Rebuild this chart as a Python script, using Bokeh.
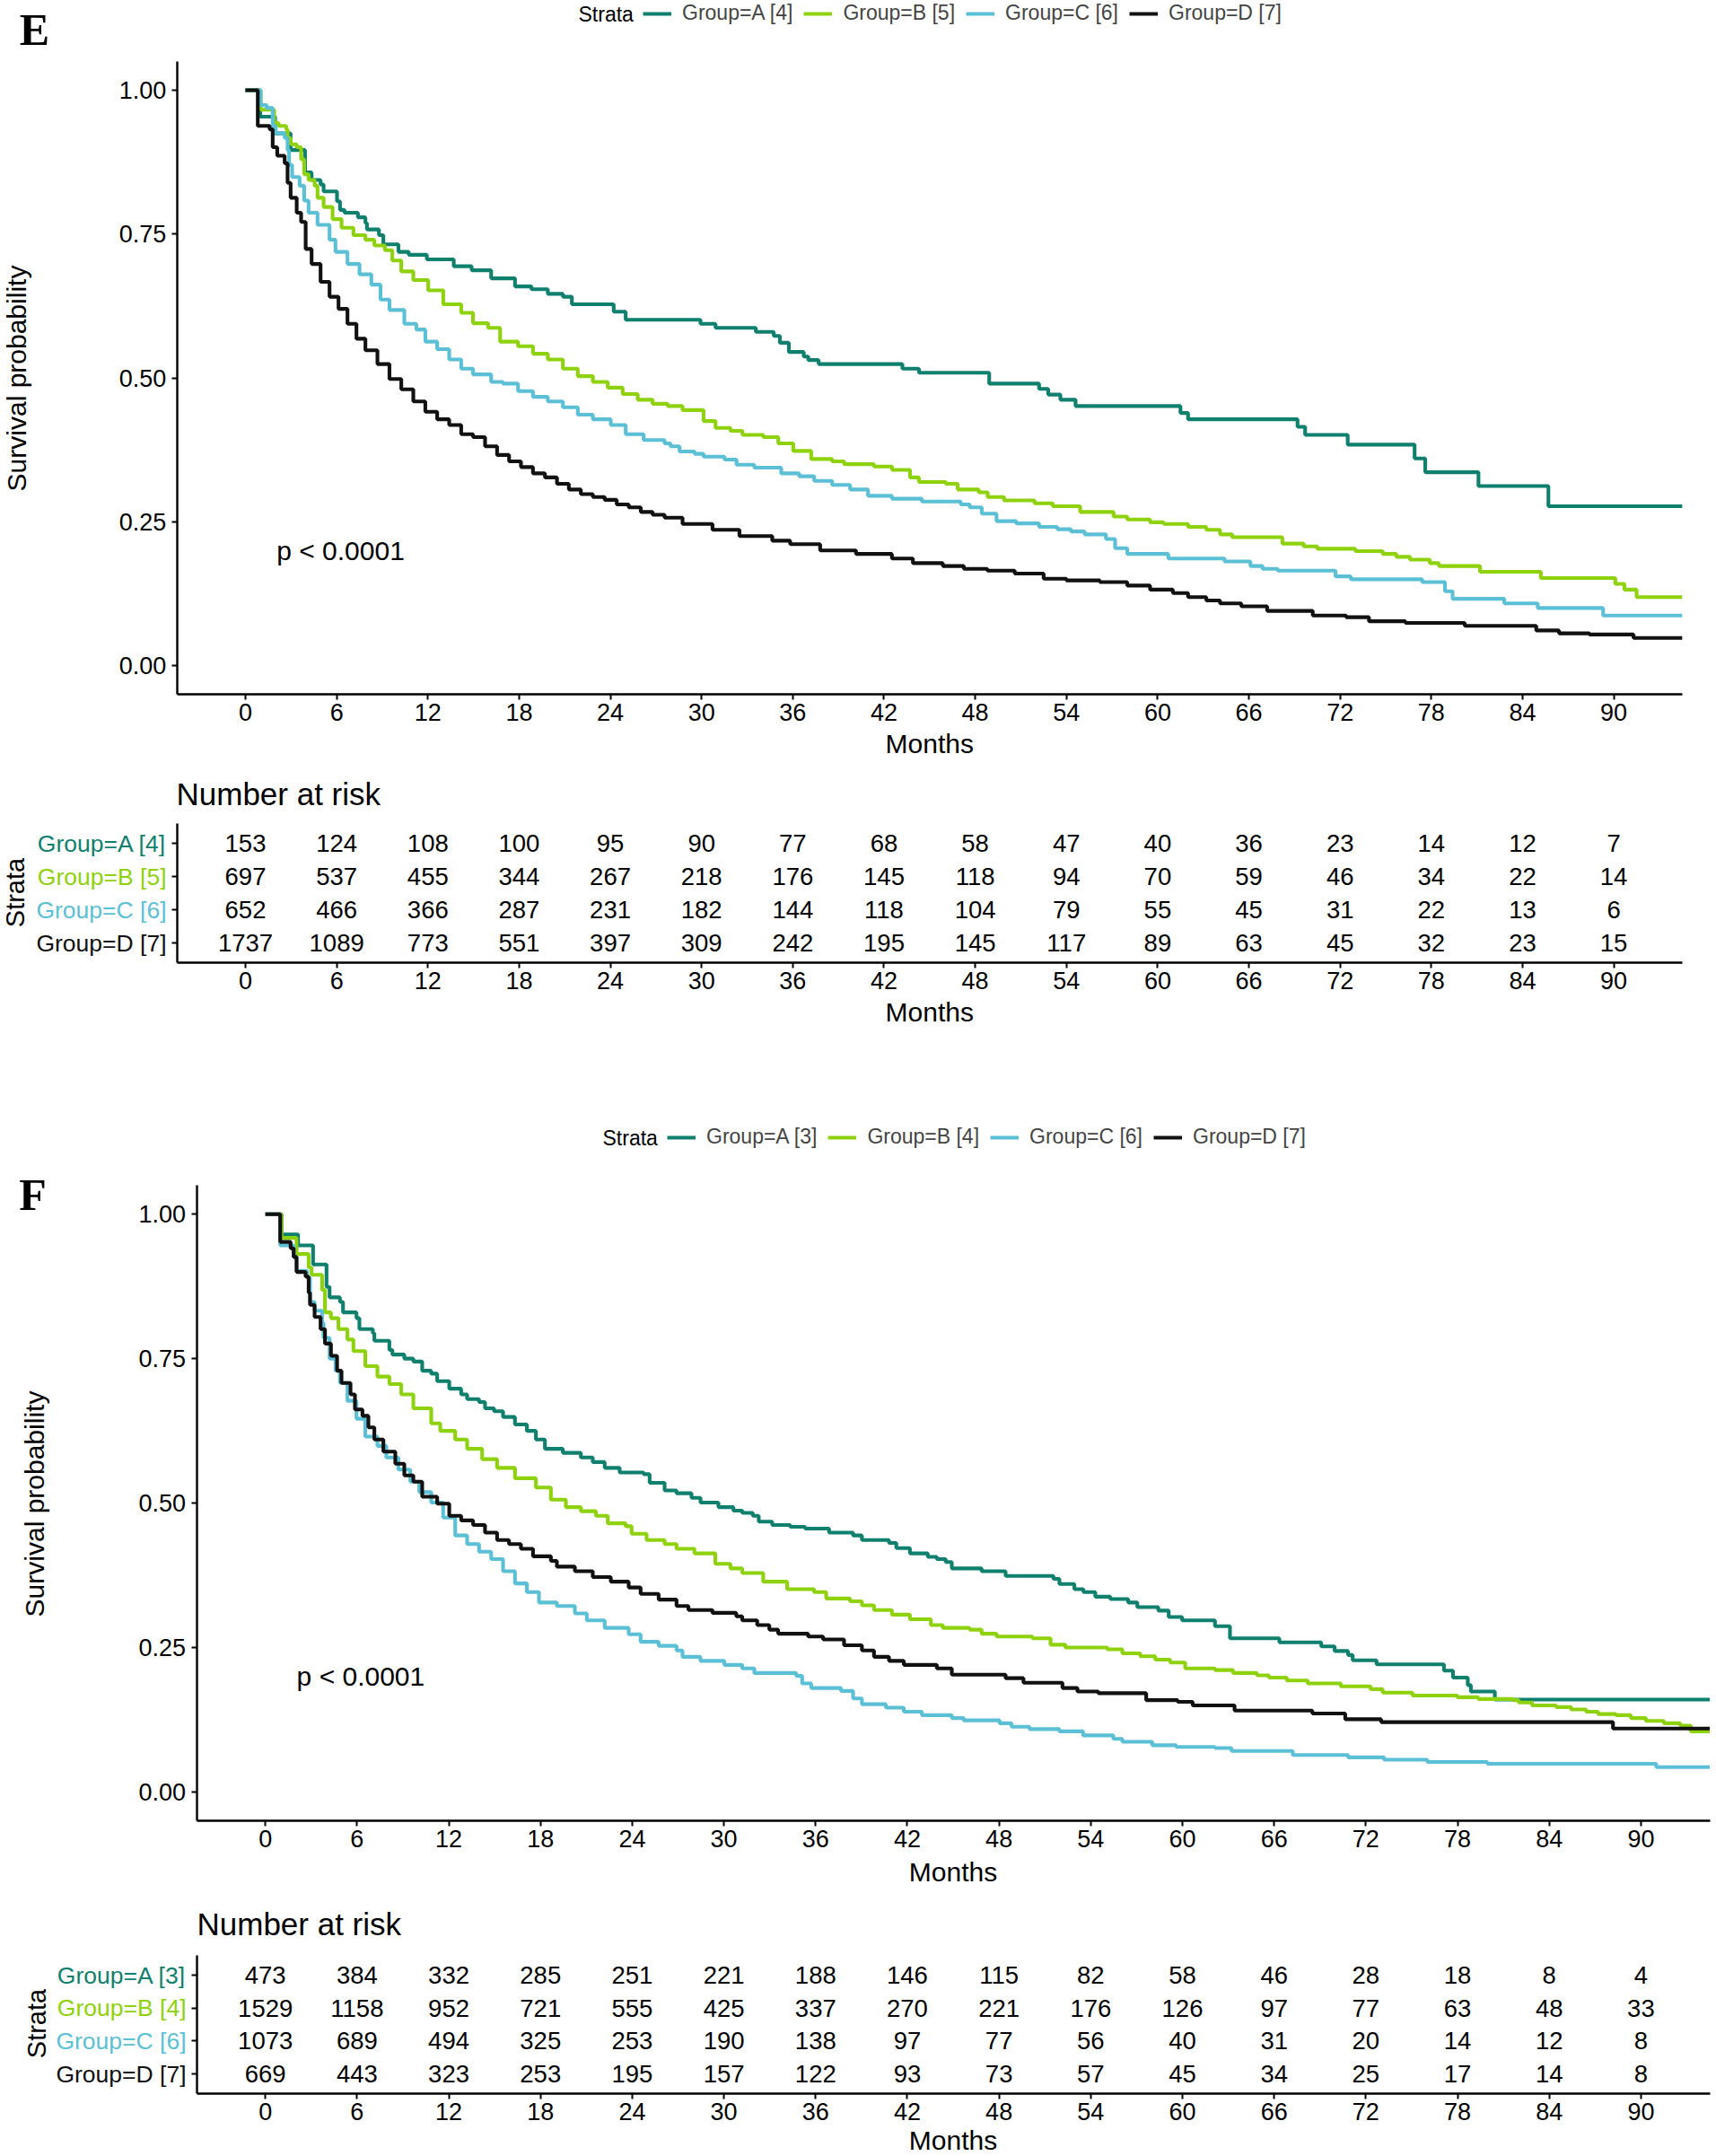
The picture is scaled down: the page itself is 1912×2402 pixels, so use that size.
import math
from bokeh.plotting import figure
from bokeh.models import Range1d, Legend, LegendItem, FixedTicker, LinearAxis, NumeralTickFormatter
from bokeh.embed import file_html
from bokeh.resources import INLINE
from bokeh.core.properties import value

FONT = "Liberation Sans"
COLORS = ["#0F806D", "#8ED10D", "#5BC0D5", "#111111"]
RISK_TIMES = [0, 6, 12, 18, 24, 30, 36, 42, 48, 54, 60, 66, 72, 78, 84, 90]
Y_TICKS = [0, 0.25, 0.5, 0.75, 1.0]
ROWS = [4, 3, 2, 1]

# ---------------- Panel E data ----------------
E_LABELS = ["Group=A [4]", "Group=B [5]", "Group=C [6]", "Group=D [7]"]

E_A_T = [0, 0.97, 1.95, 2.97, 3.92, 4.35, 4.94, 5.14, 6.02, 6.22, 6.51, 7.40, 7.89, 7.99, 8.78, 9.07, 10.06, 10.74, 11.93, 13.70, 14.88, 16.16, 17.73, 18.81, 19.89, 20.88, 21.47, 24.22, 25.01, 29.93, 30.92, 33.57, 34.75, 35.15, 35.74, 36.72, 37.02, 37.70, 43.21, 44.30, 48.92, 52.2, 52.8, 53.6, 54.6, 61.5, 62.0, 69.2, 69.7, 72.5, 76.9, 77.6, 81.1, 85.7, 94.5]
E_A_S = [1.0, 0.954, 0.925, 0.896, 0.857, 0.844, 0.836, 0.824, 0.807, 0.792, 0.787, 0.779, 0.769, 0.758, 0.748, 0.732, 0.719, 0.714, 0.706, 0.694, 0.687, 0.673, 0.659, 0.654, 0.646, 0.641, 0.628, 0.615, 0.601, 0.594, 0.587, 0.580, 0.573, 0.561, 0.545, 0.537, 0.531, 0.524, 0.516, 0.509, 0.490, 0.481, 0.471, 0.462, 0.451, 0.439, 0.428, 0.415, 0.401, 0.384, 0.360, 0.336, 0.312, 0.277, 0.277]

E_B_T = [0, 1.0, 1.89, 2.18, 2.68, 2.77, 2.97, 3.37, 3.66, 3.86, 4.15, 4.55, 4.74, 5.14, 5.73, 6.32, 7.10, 7.89, 8.48, 9.17, 9.66, 10.25, 11.04, 12.02, 13.01, 14.19, 14.97, 15.96, 16.75, 17.93, 18.91, 19.89, 20.88, 21.86, 22.85, 23.83, 24.81, 25.80, 26.78, 27.77, 28.75, 30.13, 30.92, 31.9, 32.69, 34.06, 35.05, 36.03, 37.21, 38.59, 39.38, 41.34, 42.53, 43.71, 44.30, 46.07, 46.85, 48.23, 48.82, 49.9, 51.9, 53.1, 54.9, 57.1, 58.0, 59.5, 60.4, 62.0, 63.2, 64.1, 64.9, 68.2, 69.6, 70.5, 73.0, 74.8, 75.7, 76.6, 77.9, 78.5, 81.2, 85.2, 90.1, 90.7, 91.5, 94.5]
E_B_S = [1.0, 0.966, 0.943, 0.938, 0.932, 0.917, 0.906, 0.901, 0.880, 0.854, 0.844, 0.834, 0.813, 0.797, 0.776, 0.761, 0.748, 0.740, 0.730, 0.722, 0.704, 0.685, 0.670, 0.652, 0.628, 0.613, 0.595, 0.587, 0.563, 0.555, 0.542, 0.532, 0.516, 0.503, 0.493, 0.483, 0.472, 0.462, 0.455, 0.451, 0.444, 0.425, 0.413, 0.408, 0.401, 0.397, 0.386, 0.373, 0.359, 0.355, 0.350, 0.346, 0.340, 0.327, 0.319, 0.316, 0.306, 0.301, 0.293, 0.287, 0.282, 0.277, 0.267, 0.259, 0.254, 0.249, 0.246, 0.241, 0.236, 0.228, 0.223, 0.212, 0.207, 0.203, 0.199, 0.194, 0.189, 0.184, 0.178, 0.173, 0.163, 0.152, 0.142, 0.132, 0.119, 0.119]

E_C_T = [0, 1.0, 1.40, 1.79, 1.99, 2.58, 2.77, 2.87, 3.07, 3.56, 3.86, 4.15, 4.74, 5.53, 5.92, 6.71, 7.50, 8.28, 8.88, 9.47, 10.45, 11.24, 11.83, 12.61, 13.40, 14.19, 14.97, 16.16, 16.94, 17.93, 18.91, 19.89, 20.88, 21.86, 22.85, 24.03, 25.01, 26.19, 27.57, 27.96, 28.55, 29.54, 30.13, 31.51, 32.3, 33.47, 35.24, 36.42, 37.41, 38.59, 39.77, 40.95, 42.52, 44.49, 47.05, 47.64, 48.43, 49.4, 50.7, 52.2, 53.4, 54.3, 55.2, 56.6, 57.2, 58.0, 60.7, 64.4, 66.1, 66.9, 67.9, 71.7, 72.7, 77.4, 78.9, 79.4, 82.8, 85.0, 89.3, 94.5]
E_C_S = [1.0, 0.974, 0.969, 0.938, 0.925, 0.917, 0.896, 0.870, 0.849, 0.834, 0.808, 0.787, 0.766, 0.740, 0.719, 0.698, 0.680, 0.662, 0.636, 0.618, 0.594, 0.584, 0.563, 0.550, 0.532, 0.516, 0.506, 0.493, 0.490, 0.477, 0.467, 0.459, 0.449, 0.436, 0.428, 0.418, 0.402, 0.392, 0.386, 0.381, 0.372, 0.368, 0.363, 0.358, 0.349, 0.344, 0.334, 0.329, 0.321, 0.314, 0.306, 0.295, 0.290, 0.285, 0.280, 0.275, 0.264, 0.251, 0.247, 0.241, 0.237, 0.233, 0.228, 0.220, 0.204, 0.194, 0.186, 0.181, 0.173, 0.168, 0.165, 0.155, 0.150, 0.145, 0.129, 0.116, 0.108, 0.100, 0.087, 0.087]

E_D_T = [0, 0.81, 1.59, 1.79, 2.09, 2.58, 2.77, 2.97, 3.37, 3.66, 3.96, 4.35, 4.94, 5.53, 6.12, 6.71, 7.30, 7.89, 8.68, 9.47, 10.25, 11.04, 11.83, 12.61, 13.40, 14.19, 14.97, 15.76, 16.55, 17.34, 18.12, 18.91, 19.70, 20.49, 21.27, 22.06, 22.85, 23.63, 24.42, 25.21, 26.0, 26.78, 27.57, 28.75, 30.72, 32.49, 34.65, 35.83, 37.8, 40.16, 42.52, 43.9, 45.87, 47.25, 48.8, 50.6, 52.5, 54.0, 56.2, 58.0, 59.5, 61.0, 62.0, 63.2, 64.1, 65.5, 67.2, 70.2, 72.4, 73.9, 76.3, 80.2, 84.9, 86.4, 88.4, 91.3, 94.5]
E_D_S = [1.0, 0.938, 0.932, 0.901, 0.886, 0.873, 0.839, 0.813, 0.787, 0.771, 0.724, 0.698, 0.667, 0.641, 0.620, 0.594, 0.568, 0.548, 0.524, 0.498, 0.480, 0.459, 0.441, 0.428, 0.418, 0.402, 0.397, 0.381, 0.366, 0.355, 0.345, 0.334, 0.327, 0.316, 0.306, 0.298, 0.293, 0.288, 0.280, 0.275, 0.267, 0.262, 0.257, 0.246, 0.236, 0.225, 0.217, 0.211, 0.200, 0.194, 0.186, 0.178, 0.173, 0.168, 0.165, 0.160, 0.151, 0.148, 0.145, 0.139, 0.132, 0.126, 0.119, 0.113, 0.108, 0.103, 0.095, 0.087, 0.084, 0.077, 0.074, 0.069, 0.061, 0.056, 0.054, 0.048, 0.048]

E_RISK_A = [153, 124, 108, 100, 95, 90, 77, 68, 58, 47, 40, 36, 23, 14, 12, 7]
E_RISK_B = [697, 537, 455, 344, 267, 218, 176, 145, 118, 94, 70, 59, 46, 34, 22, 14]
E_RISK_C = [652, 466, 366, 287, 231, 182, 144, 118, 104, 79, 55, 45, 31, 22, 13, 6]
E_RISK_D = [1737, 1089, 773, 551, 397, 309, 242, 195, 145, 117, 89, 63, 45, 32, 23, 15]

# ---------------- Panel F data ----------------
F_LABELS = ["Group=A [3]", "Group=B [4]", "Group=C [6]", "Group=D [7]"]

F_A_T = [0, 1.06, 2.14, 3.12, 4.0, 4.2, 4.88, 5.08, 5.96, 6.15, 7.03, 7.13, 8.11, 8.31, 9.09, 9.68, 10.26, 10.85, 11.24, 12.03, 12.81, 13.2, 13.98, 14.37, 14.96, 15.55, 16.33, 17.11, 17.7, 18.29, 19.46, 20.64, 21.42, 22.2, 23.18, 24.75, 25.14, 26.12, 26.9, 27.88, 28.47, 29.64, 30.62, 31.2, 31.89, 32.28, 33.16, 34.34, 35.31, 36.88, 38.45, 39.03, 40.8, 41.28, 42.17, 43.34, 43.93, 44.51, 44.91, 46.86, 48.43, 51.56, 51.95, 52.93, 53.52, 54.3, 55.28, 56.45, 57.05, 58.42, 59.1, 59.98, 62.13, 63.11, 66.34, 69.08, 69.96, 70.84, 71.14, 72.7, 77.11, 77.7, 78.67, 78.87, 80.44, 94.5]
F_A_S = [1.0, 0.965, 0.946, 0.913, 0.874, 0.856, 0.848, 0.830, 0.820, 0.801, 0.794, 0.781, 0.765, 0.757, 0.750, 0.745, 0.729, 0.724, 0.711, 0.698, 0.688, 0.680, 0.675, 0.664, 0.659, 0.649, 0.636, 0.625, 0.610, 0.594, 0.587, 0.579, 0.571, 0.561, 0.553, 0.550, 0.535, 0.522, 0.517, 0.509, 0.501, 0.493, 0.487, 0.483, 0.478, 0.468, 0.462, 0.459, 0.456, 0.449, 0.444, 0.436, 0.431, 0.422, 0.413, 0.407, 0.403, 0.398, 0.387, 0.382, 0.374, 0.369, 0.360, 0.351, 0.346, 0.338, 0.334, 0.328, 0.320, 0.314, 0.303, 0.297, 0.287, 0.266, 0.259, 0.252, 0.244, 0.237, 0.228, 0.221, 0.210, 0.198, 0.185, 0.174, 0.160, 0.160]

F_B_T = [0, 1.06, 2.04, 2.83, 3.02, 3.71, 3.9, 4.29, 4.78, 5.37, 5.76, 6.54, 7.33, 8.11, 8.89, 9.68, 10.85, 11.44, 12.42, 13.2, 14.18, 15.16, 16.33, 17.7, 18.68, 19.66, 20.64, 21.62, 22.4, 23.57, 23.96, 24.94, 26.12, 26.9, 28.07, 29.44, 30.42, 31.2, 32.57, 34.14, 35.9, 36.69, 38.25, 39.03, 39.82, 40.99, 42.17, 43.54, 44.32, 46.08, 46.86, 47.84, 50.19, 51.37, 52.34, 55.08, 56.07, 57.24, 58.22, 59.2, 60.18, 62.13, 63.31, 64.88, 65.66, 66.83, 68.2, 70.36, 72.31, 73.1, 75.05, 77.99, 79.36, 81.61, 82.0, 82.88, 84.45, 85.43, 86.41, 87.19, 88.36, 89.34, 90.32, 91.5, 92.57, 93.26, 94.5]
F_B_S = [1.0, 0.959, 0.931, 0.908, 0.895, 0.869, 0.830, 0.820, 0.801, 0.783, 0.763, 0.737, 0.719, 0.706, 0.688, 0.664, 0.638, 0.625, 0.610, 0.594, 0.576, 0.561, 0.543, 0.527, 0.506, 0.493, 0.486, 0.478, 0.465, 0.460, 0.447, 0.436, 0.429, 0.421, 0.413, 0.395, 0.387, 0.379, 0.364, 0.351, 0.346, 0.335, 0.330, 0.323, 0.315, 0.307, 0.299, 0.289, 0.284, 0.281, 0.274, 0.269, 0.266, 0.255, 0.250, 0.247, 0.240, 0.235, 0.229, 0.224, 0.214, 0.211, 0.206, 0.202, 0.198, 0.193, 0.188, 0.183, 0.178, 0.172, 0.167, 0.164, 0.161, 0.159, 0.155, 0.150, 0.147, 0.143, 0.139, 0.135, 0.133, 0.128, 0.123, 0.119, 0.115, 0.105, 0.105]

F_C_T = [0, 0.97, 1.85, 2.04, 2.73, 2.92, 3.22, 3.71, 3.8, 4.2, 4.59, 4.88, 5.37, 5.96, 6.54, 7.33, 7.91, 8.70, 9.48, 10.07, 10.85, 11.63, 12.42, 13.2, 13.98, 14.77, 15.55, 16.33, 17.11, 17.9, 19.07, 20.25, 21.03, 22.2, 23.77, 24.55, 25.73, 26.9, 27.29, 28.46, 30.03, 31.2, 31.99, 34.73, 35.12, 35.71, 37.66, 38.45, 39.03, 40.6, 41.77, 42.95, 44.91, 45.69, 48.04, 48.82, 49.99, 51.95, 53.5, 55.48, 56.07, 58.02, 59.59, 62.13, 63.21, 67.22, 70.84, 73.19, 76.03, 79.95, 91.0, 94.5]
F_C_S = [1.0, 0.946, 0.926, 0.902, 0.890, 0.848, 0.833, 0.812, 0.786, 0.750, 0.729, 0.708, 0.677, 0.646, 0.615, 0.599, 0.579, 0.558, 0.537, 0.519, 0.501, 0.475, 0.444, 0.429, 0.416, 0.403, 0.382, 0.361, 0.346, 0.328, 0.322, 0.309, 0.297, 0.284, 0.273, 0.260, 0.253, 0.245, 0.234, 0.227, 0.220, 0.214, 0.206, 0.201, 0.188, 0.180, 0.175, 0.162, 0.152, 0.146, 0.139, 0.133, 0.128, 0.124, 0.119, 0.113, 0.109, 0.105, 0.098, 0.092, 0.087, 0.081, 0.078, 0.076, 0.071, 0.064, 0.060, 0.056, 0.052, 0.049, 0.043, 0.043]

F_D_T = [0, 0.97, 1.65, 1.85, 2.04, 2.63, 2.83, 2.92, 3.22, 3.61, 3.9, 4.29, 4.69, 4.98, 5.57, 5.86, 6.35, 6.74, 7.13, 7.72, 8.5, 9.09, 9.68, 10.26, 11.24, 12.03, 12.81, 13.59, 14.37, 15.16, 15.94, 16.72, 17.51, 18.68, 19.07, 20.25, 21.42, 22.6, 23.77, 24.55, 25.73, 26.9, 27.68, 29.25, 30.81, 31.2, 32.18, 32.97, 33.55, 35.51, 36.49, 37.86, 39.03, 39.82, 40.8, 41.77, 43.93, 44.91, 48.43, 49.6, 52.15, 53.13, 54.5, 57.63, 59.69, 60.67, 63.41, 68.5, 70.65, 73.0, 88.17, 94.5]
F_D_S = [1.0, 0.952, 0.941, 0.926, 0.900, 0.892, 0.864, 0.843, 0.822, 0.801, 0.776, 0.755, 0.729, 0.708, 0.688, 0.662, 0.651, 0.631, 0.610, 0.589, 0.568, 0.548, 0.537, 0.511, 0.499, 0.478, 0.470, 0.462, 0.449, 0.436, 0.429, 0.421, 0.408, 0.400, 0.390, 0.382, 0.372, 0.364, 0.354, 0.343, 0.333, 0.322, 0.315, 0.310, 0.304, 0.297, 0.289, 0.281, 0.274, 0.269, 0.264, 0.254, 0.245, 0.234, 0.227, 0.220, 0.214, 0.203, 0.197, 0.189, 0.180, 0.174, 0.171, 0.159, 0.156, 0.150, 0.141, 0.136, 0.126, 0.121, 0.110, 0.110]

F_RISK_A = [473, 384, 332, 285, 251, 221, 188, 146, 115, 82, 58, 46, 28, 18, 8, 4]
F_RISK_B = [1529, 1158, 952, 721, 555, 425, 337, 270, 221, 176, 126, 97, 77, 63, 48, 33]
F_RISK_C = [1073, 689, 494, 325, 253, 190, 138, 97, 77, 56, 40, 31, 20, 14, 12, 8]
F_RISK_D = [669, 443, 323, 253, 195, 157, 122, 93, 73, 57, 45, 34, 25, 17, 14, 8]

# ---------------- page geometry (page pixels; the canvas fills the page) ----------------
PW, PH = 1912, 2402

# panel anchors: page-x of month 0, px per month; page-y of s=1 / s=0; page-y of risk rows 4 / 1
GEO = {
    "E": dict(x0=273.0, xpm=16.94, y1=100.0, y0=741.0, r4=939.3, r1=1050.0),
    "F": dict(x0=295.2, xpm=17.03, y1=1352.2, y0=1996.0, r4=2200.0, r1=2310.0),
}


def py(y):
    return PH - y  # page-y (down) -> default data y (up)


def x_range_for(g):
    return Range1d((0 - g["x0"]) / g["xpm"], (PW - g["x0"]) / g["xpm"])


def y_lin(page_a, val_a, page_b, val_b):
    slope = (val_b - val_a) / (page_b - page_a)
    return Range1d(val_a + (PH - page_a) * slope, val_a + (0 - page_a) * slope)


def px_to_month(g, px):
    return (px - g["x0"]) / g["xpm"]


p = figure(width=PW, height=PH, x_range=Range1d(0, PW), y_range=Range1d(0, PH),
           x_axis_type=None, y_axis_type=None, output_backend="svg", toolbar_location=None,
           min_border=0)
p.outline_line_color = None
p.background_fill_color = "white"
p.border_fill_color = "white"
if p.title is not None:
    p.title.visible = False

for key, g in GEO.items():
    k = key.lower()
    p.extra_x_ranges[k + "x"] = x_range_for(g)
    p.extra_y_ranges[k + "y"] = y_lin(g["y1"], 1.0, g["y0"], 0.0)
    p.extra_y_ranges[k + "r"] = y_lin(g["r4"], 4.0, g["r1"], 1.0)


def style_axis(ax):
    ax.axis_line_width = 2.4
    ax.axis_line_color = "black"
    ax.major_tick_line_width = 2
    ax.major_tick_line_color = "black"
    ax.major_tick_out = 6
    ax.major_tick_in = 0
    ax.minor_tick_line_color = None
    ax.major_label_text_font = FONT
    ax.major_label_text_font_size = "27px"
    ax.major_label_text_color = "black"


def add_axes(xr, yr, ybounds, yticks, ylabels):
    xa = LinearAxis(x_range_name=xr, y_range_name=yr, fixed_location=ybounds[0],
                    bounds=(-4.5, 94.5), ticker=FixedTicker(ticks=RISK_TIMES))
    style_axis(xa)
    xa.major_label_standoff = 4
    p.add_layout(xa, "below")
    ya = LinearAxis(x_range_name=xr, y_range_name=yr, fixed_location=-4.5,
                    bounds=ybounds, ticker=FixedTicker(ticks=yticks))
    style_axis(ya)
    ya.major_label_standoff = 6
    if ylabels:
        ya.formatter = NumeralTickFormatter(format="0.00")
    else:
        ya.major_label_overrides = {t: "" for t in yticks}
    p.add_layout(ya, "left")


def txt(xs, ys, texts, size, align="center", color="black", angle=0.0, font=FONT,
        style="normal", xr="default", yr="default"):
    p.text(x=xs, y=ys, text=texts, x_range_name=xr, y_range_name=yr,
           text_font=value(font), text_font_size=size, text_font_style=style,
           text_align=align, text_baseline="middle", text_color=color, angle=angle)


def panel(key, curves, labels, risks, pos):
    g = GEO[key]
    k = key.lower()
    xr, yr, rr = k + "x", k + "y", k + "r"
    add_axes(xr, yr, (-0.05, 1.05), Y_TICKS, True)
    add_axes(xr, rr, (0.4, 4.6), [1, 2, 3, 4], False)
    rends = []
    for (t, s), c in zip(curves, COLORS):
        rends.append(p.step(x=t, y=s, mode="after", line_color=c, line_width=4.1,
                            x_range_name=xr, y_range_name=yr))
    # legend
    lx, ly = pos["legend"]
    leg = Legend(items=[LegendItem(label=l, renderers=[r]) for l, r in zip(labels, rends)],
                 orientation="horizontal", location=(lx, PH - ly),
                 glyph_width=32, glyph_height=24, label_height=24, label_standoff=12,
                 spacing=12, padding=0, margin=0, border_line_color=None,
                 background_fill_alpha=0, label_text_font=FONT, label_text_font_size="23px")
    p.add_layout(leg)
    sx, sy = pos["strata"]
    txt([sx], [py(sy)], ["Strata"], "23px", align="left")
    lx2, ly2 = pos["letter"]
    txt([lx2], [py(ly2)], [key], "50px", font="Liberation Serif", style="bold")
    yx, yy = pos["ylab"]
    txt([yx], [py(yy)], ["Survival probability"], "30px", angle=math.pi / 2)
    mx = (g["x0"] + 45 * g["xpm"])
    txt([mx], [py(pos["months1"])], ["Months"], "30px")
    txt([mx], [py(pos["months2"])], ["Months"], "30px")
    txt([2.05], [0.2], ["p < 0.0001"], "30px", align="left", xr=xr, yr=yr)
    # risk table
    xs, ys, ts = [], [], []
    for row, vals in zip(ROWS, risks):
        for t, v in zip(RISK_TIMES, vals):
            xs.append(t)
            ys.append(row)
            ts.append(str(v))
    txt(xs, ys, ts, "27.5px", xr=xr, yr=rr)
    gx = px_to_month(g, pos["group_right"])
    for row, l, c in zip(ROWS, labels, COLORS):
        txt([gx], [row], [l], "26.5px", align="right", color=c, xr=xr, yr=rr)
    nx, ny = pos["nrisk"]
    txt([nx], [py(ny)], ["Number at risk"], "35px", align="left")
    rx, ry = pos["rstrata"]
    txt([rx], [py(ry)], ["Strata"], "29px", angle=math.pi / 2)


panel("E", [(E_A_T, E_A_S), (E_B_T, E_B_S), (E_C_T, E_C_S), (E_D_T, E_D_S)], E_LABELS,
      [E_RISK_A, E_RISK_B, E_RISK_C, E_RISK_D],
      dict(legend=(716, 28), strata=(644, 15), letter=(38, 32), ylab=(18, 421),
           months1=828, months2=1127, group_right=185, nrisk=(196, 884), rstrata=(16, 994)))
panel("F", [(F_A_T, F_A_S), (F_B_T, F_B_S), (F_C_T, F_C_S), (F_D_T, F_D_S)], F_LABELS,
      [F_RISK_A, F_RISK_B, F_RISK_C, F_RISK_D],
      dict(legend=(743, 1280), strata=(671, 1267), letter=(36, 1330), ylab=(38, 1675),
           months1=2085, months2=2384, group_right=207, nrisk=(219, 2143), rstrata=(40, 2254)))

open("out.html", "w").write(file_html(p, INLINE))
